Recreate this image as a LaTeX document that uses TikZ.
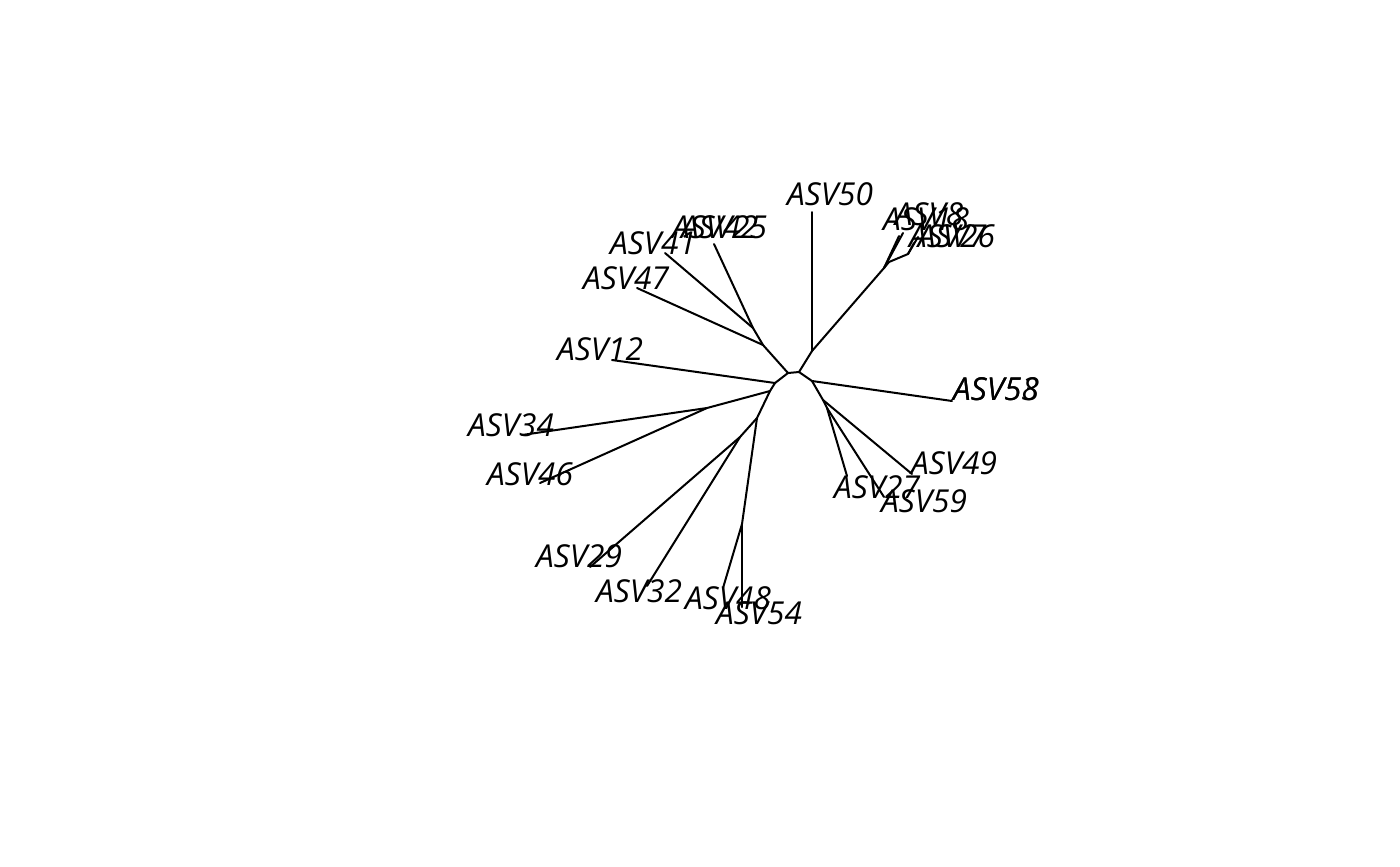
\documentclass[tikz,border=0pt]{standalone}
\usepackage{fontspec}
\setmainfont{Open Sans}
\usepackage{tikz}
\usetikzlibrary{positioning}

\begin{document}
\begin{tikzpicture}[x=0.5bp,y=-0.5bp]
			\tikzstyle{Branch}	= [line width=1bp, black, line cap=round, line join=round]
			\tikzstyle{Label}	= [anchor=base, inner sep=0pt, font=\fontsize{15.8bp}{18bp}\selectfont\itshape]

			\useasboundingbox (0,0) rectangle (1400,866);

			% inner nodes
			\coordinate (nA) at (788,373);
			\coordinate (nB) at (799,372);
			\coordinate (nC) at (763,345);
			\coordinate (nD) at (753,328);
			\coordinate (nE) at (775,383);
			\coordinate (nF) at (770,391);
			\coordinate (nJ) at (707,408);
			\coordinate (nG) at (757,418);
			\coordinate (nH) at (740,437);
			\coordinate (nI) at (742,524);
			\coordinate (nK) at (812,351);
			\coordinate (nL) at (884,268);
			\coordinate (nM) at (889,262);
			\coordinate (nQ) at (908,254);
			\coordinate (nN) at (812,381);
			\coordinate (nO) at (823,400);
			\coordinate (nP) at (827,408);

			% tips
			\coordinate (t50) at (812,212);
			\coordinate (t47) at (637,288);
			\coordinate (t41) at (665,253);
			\coordinate (t42) at (714,244);
			\coordinate (t12) at (612,360);
			\coordinate (t34) at (522,435);
			\coordinate (t46) at (540,483);
			\coordinate (t29) at (590,567);
			\coordinate (t32) at (647,586);
			\coordinate (t48) at (723,588);
			\coordinate (t54) at (742,607);
			\coordinate (t18) at (899,236);
			\coordinate (t8) at (903,233);
			\coordinate (t7) at (918,237);
			\coordinate (t26) at (914,243);
			\coordinate (t58) at (952,401);
			\coordinate (t49) at (912,474);
			\coordinate (t27) at (847,476);
			\coordinate (t59) at (884,497);

			% labels
			\node (l50) at (830,205) [Label] {ASV50};
			\node (l42) at (715,238) [Label] {ASV42};
			\node (l25) at (724,238) [Label] {ASV25};
			\node (l41) at (653,254) [Label] {ASV41};
			\node (l47) at (626,289) [Label] {ASV47};
			\node (l12) at (600,360) [Label] {ASV12};
			\node (l34) at (511,436) [Label] {ASV34};
			\node (l46) at (530,485) [Label] {ASV46};
			\node (l29) at (579,567) [Label] {ASV29};
			\node (l32) at (639,602) [Label] {ASV32};
			\node (l48) at (728,609) [Label] {ASV48};
			\node (l54) at (759,624) [Label] {ASV54};
			\node (l18) at (926,230) [Label] {ASV18};
			\node (l8) at (929,225) [Label] {ASV8};
			\node (l26) at (952,247) [Label] {ASV26};
			\node (l7) at (952,247) [Label] {ASV7};
			\node (l58) at (996,400) [Label] {ASV58};
			\node (l53) at (996,400) [Label] {ASV53};
			\node (l49) at (954,474) [Label] {ASV49};
			\node (l27) at (877,498) [Label] {ASV27};
			\node (l59) at (924,512) [Label] {ASV59};

			% left part
			\draw [-] (nA) to (nB) [Branch];
			\draw [-] (nA) to (nC) [Branch];
			\draw [-] (nC) to (t47) [Branch];
			\draw [-] (nC) to (nD) [Branch];
			\draw [-] (nD) to (t41) [Branch];
			\draw [-] (nD) to (t42) [Branch];
			\draw [-] (nA) to (nE) [Branch];
			\draw [-] (nE) to (t12) [Branch];
			\draw [-] (nE) to (nF) [Branch];
			\draw [-] (nF) to (nJ) [Branch];
			\draw [-] (nJ) to (t34) [Branch];
			\draw [-] (nJ) to (t46) [Branch];
			\draw [-] (nF) to (nG) [Branch];
			\draw [-] (nG) to (nH) [Branch];
			\draw [-] (nH) to (t29) [Branch];
			\draw [-] (nH) to (t32) [Branch];
			\draw [-] (nG) to (nI) [Branch];
			\draw [-] (nI) to (t48) [Branch];
			\draw [-] (nI) to (t54) [Branch];

			% right part
			\draw [-] (nB) to (nK) [Branch];
			\draw [-] (nK) to (t50) [Branch];
			\draw [-] (nK) to (nL) [Branch];
			\draw [-] (nL) to (t18) [Branch];
			\draw [-] (nL) to (t8) [Branch];
			\draw [-] (nL) to (nM) [Branch];
			\draw [-] (nM) to (nQ) [Branch];
			\draw [-] (nQ) to (t7) [Branch];
			\draw [-] (nQ) to (t26) [Branch];
			\draw [-] (nB) to (nN) [Branch];
			\draw [-] (nN) to (t58) [Branch];
			\draw [-] (nN) to (nO) [Branch];
			\draw [-] (nO) to (t49) [Branch];
			\draw [-] (nO) to (nP) [Branch];
			\draw [-] (nP) to (t27) [Branch];
			\draw [-] (nP) to (t59) [Branch];
		\end{tikzpicture}
\end{document}
